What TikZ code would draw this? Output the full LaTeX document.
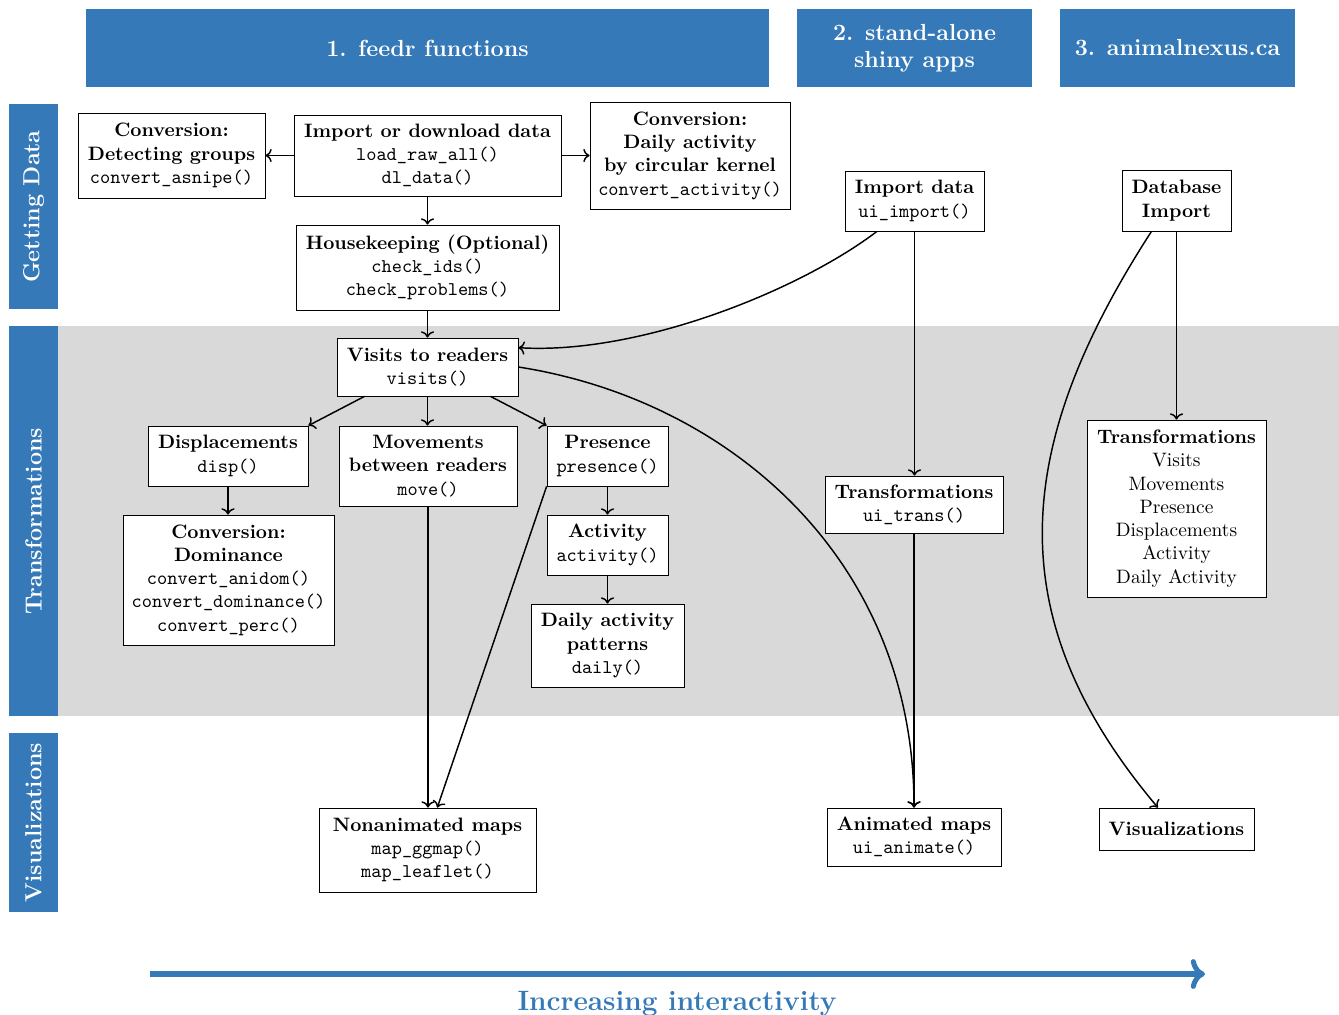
\documentclass[tikz,border=0pt]{standalone}
\usetikzlibrary{arrows.meta}
\definecolor{hdr}{RGB}{53,121,184}
\definecolor{band}{RGB}{217,217,217}
\begin{document}
\begin{tikzpicture}[x=0.515pt,y=-0.515pt,
  box/.style={draw, fill=white, align=center, inner sep=2pt, font=\normalsize},
  wh/.style 2 args={minimum width=#1*0.515pt, minimum height=#2*0.515pt},
  conn/.style={->, line width=0.75pt},
  hdrbox/.style={fill=hdr, text=white, align=center, font=\large\bfseries},
  side/.style={fill=hdr, text=white, font=\large\bfseries, rotate=90, inner sep=0pt}
]
\useasboundingbox (0,0) rectangle (1339,1015);
% background band
\fill[band] (33,326) rectangle (1339,716);
% headers
\node[hdrbox, wh={683}{78}] (h1) at (427.5,48) {1.\hspace{6pt}feedr functions};
\node[hdrbox, wh={235}{78}] (h2) at (914.5,48) {2.\hspace{6pt}stand-alone\\shiny apps};
\node[hdrbox, wh={235}{78}] (h3) at (1177.5,48) {3.\hspace{6pt}animalnexus.ca};
% side bars
\node[side, wh={205}{49}] (s1) at (33.5,206.5) {Getting Data};
\node[side, wh={390}{49}] (s2) at (33.5,521) {Transformations};
\node[side, wh={179}{49}] (s3) at (33.5,822.5) {Visualizations};
% feedr functions
\node[box, wh={187}{85}] (cg) at (171.5,155.5) {\textbf{Conversion:}\\\textbf{Detecting groups}\\\texttt{convert\_asnipe()}};
\node[box, wh={267}{81}] (imp) at (427.5,155.5) {\textbf{Import or download data}\\\texttt{load\_raw\_all()}\\\texttt{dl\_data()}};
\node[box, wh={200}{107}] (ca) at (690,155.5) {\textbf{Conversion:}\\\textbf{Daily activity}\\\textbf{by circular kernel}\\\texttt{convert\_activity()}};
\node[box, wh={263}{85}] (hk) at (427.5,267.5) {\textbf{Housekeeping (Optional)}\\\texttt{check\_ids()}\\\texttt{check\_problems()}};
\node[box, wh={181}{58}] (vis) at (427.5,367) {\textbf{Visits to readers}\\\texttt{visits()}};
\node[box, wh={160}{60}] (dsp) at (228,456) {\textbf{Displacements}\\\texttt{disp()}};
\node[box, wh={178}{80}] (mv) at (428,466) {\textbf{Movements}\\\textbf{between readers}\\\texttt{move()}};
\node[box, wh={121}{60}] (pr) at (607.5,456) {\textbf{Presence}\\\texttt{presence()}};
\node[box, wh={211}{130}] (cd) at (228.5,580) {\textbf{Conversion:}\\\textbf{Dominance}\\\texttt{convert\_anidom()}\\\texttt{convert\_dominance()}\\\texttt{convert\_perc()}};
\node[box, wh={121}{60}] (act) at (607.5,545) {\textbf{Activity}\\\texttt{activity()}};
\node[box, wh={153}{83}] (dl) at (607.5,645.5) {\textbf{Daily activity}\\\textbf{patterns}\\\texttt{daily()}};
\node[box, wh={217}{84}] (na) at (427.5,850) {\textbf{Nonanimated maps}\\\texttt{map\_ggmap()}\\\texttt{map\_leaflet()}};
% shiny apps
\node[box, wh={139}{60}] (iu) at (914.5,201) {\textbf{Import data}\\\texttt{ui\_import()}};
\node[box, wh={178}{57}] (tu) at (914,504.5) {\textbf{Transformations}\\\texttt{ui\_trans()}};
\node[box, wh={174}{58}] (an) at (914,837) {\textbf{Animated maps}\\\texttt{ui\_animate()}};
% animalnexus
\node[box, wh={109}{61}] (db) at (1176.5,200.5) {\textbf{Database}\\\textbf{Import}};
\node[box, wh={179}{177}] (t3) at (1176.5,508.5) {\textbf{Transformations}\\Visits\\Movements\\Presence\\Displacements\\Activity\\Daily Activity};
\node[box, wh={155}{42}] (v3) at (1176.5,829) {\textbf{Visualizations}};
% connectors
\draw[conn] (imp.west) -- (cg.east);
\draw[conn] (imp.east) -- (ca.west);
\draw[conn] (imp.south) -- (hk.north);
\draw[conn] (hk.south) -- (vis.north);
\draw[conn] (vis.205.6) -- (dsp.north east);
\draw[conn] (vis.south) -- (vis.south |- mv.north);
\draw[conn] (vis.-25.6) -- (pr.north west);
\draw[conn] (dsp.south) -- (dsp.south |- cd.north);
\draw[conn] (pr.south) -- (act.north);
\draw[conn] (act.south) -- (dl.north);
\draw[conn] (mv.south) -- (mv.south |- na.north);
\draw[conn] (pr.south west) -- (na.77);
\draw[conn] (iu.219) .. controls (800,290) and (640,355) .. (vis.12);
\draw[conn] (vis.east) .. controls (730,400) and (914,560) .. (an.north);
\draw[conn] (iu.south) -- (iu.south |- tu.north);
\draw[conn] (tu.south) -- (tu.south |- an.north);
\draw[conn] (db.south) -- (db.south |- t3.north);
\draw[conn] (db.231) .. controls (1010,450) and (1000,620) .. (v3.131);
% interactivity arrow
\coordinate (as) at (150,974);
\coordinate (ae) at (1205,974);
\draw[hdr, line width=2.6pt, ->] (as) -- (ae);
\node[text=hdr, font=\Large\bfseries, inner sep=0pt, anchor=base] (lbl) at (677,1010) {Increasing interactivity};
\end{tikzpicture}
\end{document}
